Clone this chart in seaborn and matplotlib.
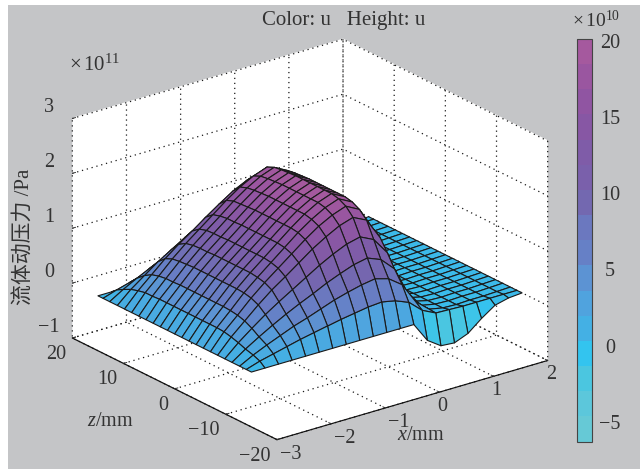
import numpy as np
import seaborn as sns
import matplotlib
matplotlib.use("Agg")
import matplotlib.pyplot as plt
from matplotlib.cm import ScalarMappable
from matplotlib.colors import ListedColormap, Normalize
from matplotlib.patches import Rectangle

sns.set_theme(style="white")
plt.rcParams['font.family'] = ['Liberation Serif', 'Noto Sans CJK SC']
plt.rcParams['mathtext.fontset'] = 'custom'
plt.rcParams['mathtext.rm'] = 'Liberation Serif'
plt.rcParams['mathtext.it'] = 'Liberation Serif:italic'

# data, u in 1e11 Pa
x_mm = [-3, -2.75, -2.5, -2.25, -2, -1.75, -1.5, -1.25, -1, -0.75, -0.5, -0.25,
        0, 0.25, 0.5, 0.75, 1, 1.25, 1.5, 1.75, 2]
z_mm = [-15, -14, -12.7, -11.2, -9.8, -8.4, -7, -5.6, -4.2, -2.8, -1.4, 0,
        1.4, 2.8, 4.2, 5.6, 7, 8.4, 9.8, 11.2, 12.7, 14, 15]
u_rows = [
    [0]*23,
    [0,.08,.13,.17,.22,.26,.29,.3,.3,.3,.3,.3,.3,.3,.3,.3,.29,.29,.26,.22,.15,.08,0],
    [0,.14,.24,.32,.41,.48,.52,.54,.55,.55,.55,.55,.55,.55,.55,.54,.54,.52,.48,.4,.28,.15,0],
    [0,.2,.34,.46,.59,.7,.76,.79,.8,.8,.8,.8,.8,.8,.8,.79,.78,.76,.7,.58,.4,.22,0],
    [0,.26,.44,.59,.75,.9,.97,1.0,1.02,1.02,1.02,1.02,1.02,1.02,1.01,1.01,1.0,.97,.89,.73,.51,.29,0],
    [0,.31,.52,.71,.9,1.07,1.16,1.2,1.22,1.22,1.22,1.22,1.22,1.22,1.21,1.21,1.2,1.16,1.06,.88,.61,.34,0],
    [0,.36,.61,.82,1.05,1.25,1.35,1.4,1.42,1.42,1.42,1.42,1.42,1.42,1.41,1.41,1.39,1.35,1.24,1.02,.71,.4,0],
    [0,.41,.7,.94,1.2,1.43,1.54,1.6,1.62,1.62,1.62,1.62,1.62,1.62,1.61,1.6,1.59,1.54,1.41,1.17,.81,.45,0],
    [0,.45,.77,1.04,1.33,1.58,1.71,1.77,1.8,1.8,1.8,1.8,1.8,1.8,1.79,1.78,1.76,1.71,1.57,1.3,.9,.5,0],
    [0,.49,.83,1.13,1.44,1.71,1.84,1.91,1.94,1.94,1.94,1.94,1.94,1.94,1.93,1.92,1.9,1.84,1.69,1.4,.97,.54,0],
    [0,.51,.87,1.18,1.5,1.79,1.93,2.0,2.03,2.03,2.03,2.03,2.03,2.03,2.02,2.01,1.99,1.93,1.77,1.46,1.02,.57,0],
    [0,.46,.8,1.08,1.38,1.67,1.8,1.87,1.9,1.9,1.9,1.9,1.9,1.9,1.89,1.88,1.86,1.8,1.65,1.37,.95,.53,0],
    [0,.36,.62,.84,1.07,1.28,1.38,1.43,1.45,1.45,1.45,1.45,1.45,1.45,1.44,1.44,1.42,1.38,1.26,1.04,.73,.41,0],
    [-.36,.14,.24,.32,.41,.48,.52,.54,.55,.55,.55,.55,.55,.55,.55,.54,.54,.52,.48,.4,.28,.15,-.36],
    [-.53,.02,.03,.03,.04,.04,.05,.05,.05,.05,.05,.05,.05,.05,.05,.05,.05,.05,.04,.04,.03,.02,-.53],
    [-.55,.01,-.02,-.02,-.02,-.02,-.02,-.02,-.02,-.02,-.02,-.02,-.02,-.02,-.02,-.02,-.02,-.02,-.02,-.02,-.02,.01,-.55],
    [-.45,0,-.03,-.03,-.03,-.03,-.03,-.03,-.03,-.03,-.03,-.03,-.03,-.03,-.03,-.03,-.03,-.03,-.03,-.03,-.03,0,-.45],
    [-.25,0,-.02,-.02,-.02,-.02,-.02,-.02,-.02,-.02,-.02,-.02,-.02,-.02,-.02,-.02,-.02,-.02,-.02,-.02,-.02,0,-.25],
    [-.08,0,-.02,-.02,-.02,-.02,-.02,-.02,-.02,-.02,-.02,-.02,-.02,-.02,-.02,-.02,-.02,-.02,-.02,-.02,-.02,0,-.08],
    [-.02,0,-.01,-.01,-.01,-.01,-.01,-.01,-.01,-.01,-.01,-.01,-.01,-.01,-.01,-.01,-.01,-.01,-.01,-.01,-.01,0,-.02],
    [0]*23,
]
x_ticks = [-3, -2, -1, 0, 1, 2]
z_ticks = [-20, -10, 0, 10, 20]
u_ticks = [-1, 0, 1, 2, 3]
cbar_ticks = [-5, 0, 5, 10, 15, 20]
cbar_levels = ['#66c9d6', '#5cc7db', '#4bc6e0', '#33c4ef', '#44b0e4', '#50a3de',
               '#5c93d3', '#6680c6', '#6b78bf', '#7368b0', '#7a60ab', '#7f5ca8',
               '#8757a4', '#9055a2', '#9a56a0', '#a5599e']

def minus(v):
    return str(v).replace('-', '\u2212')

W, H = 640, 469
bg = '#c4c5c7'
txt = '#333333'
fig = plt.figure(figsize=(W/100, H/100), dpi=100, facecolor='white')
fig.add_artist(Rectangle((8/W, 0), 1, 1-5/H, transform=fig.transFigure, color=bg, lw=0, zorder=-5))

side = 519
ax = fig.add_axes([(303-side/2)/W, 1-(246.5+side/2)/H, side/W, side/H], projection='3d', proj_type='ortho')
ax.patch.set_alpha(0)
ax.view_init(elev=22.4, azim=-127.5)
ax.set_box_aspect((342, 337, 238))
ax.set_xlim(-3, 2)
ax.set_ylim(-20, 20)
ax.set_zlim(-1, 3)

X, Z = np.meshgrid(x_mm, z_mm, indexing='ij')
U = np.array(u_rows, dtype=float)
surf_cmap = sns.blend_palette(cbar_levels, n_colors=256, as_cmap=True)
ax.plot_surface(X, Z, U, cmap=surf_cmap, vmin=-0.63, vmax=2.013, rstride=1, cstride=1,
                edgecolor='#1a1a1a', linewidth=0.8, antialiased=True)

for axis in (ax.xaxis, ax.yaxis, ax.zaxis):
    axis.set_pane_color((1, 1, 1, 1))
    axis.pane.set_edgecolor('white')
    axis._axinfo['grid'].update(color='k', linestyle=(0, (1, 3)), linewidth=0.9)
    axis._axinfo['tick'].update(inward_factor=0, outward_factor=0.15, linewidth={True: 0.7, False: 0.7})
    axis.line.set_color('#111111')
    axis.line.set_linewidth(0.9)
ax.zaxis.line.set_color((0, 0, 0, 0))
ax.grid(True)
ax.set_xticks(x_ticks)
ax.set_yticks(z_ticks)
ax.set_zticks(u_ticks)
ax.set_xticklabels([minus(v) for v in x_ticks])
ax.set_yticklabels([minus(v) for v in z_ticks])
ax.set_zticklabels([minus(v) for v in u_ticks])
ax.tick_params(labelsize=14.5, colors=txt)
ax.tick_params(axis='x', pad=-5)
ax.tick_params(axis='y', pad=-3.5)
ax.tick_params(axis='z', pad=1.5)
for t, v in zip(ax.get_xticklabels(), x_ticks):
    t.set_ha('left' if v < 0 else 'center')
for t in ax.get_yticklabels():
    t.set_ha('right')
for t in ax.get_zticklabels():
    t.set_va('bottom')

# colorbar
cax = fig.add_axes([577/W, 1-441.6/H, 15/W, 402.6/H])
sm = ScalarMappable(norm=Normalize(-6.3, 20.13), cmap=ListedColormap(sns.color_palette(cbar_levels)))
cb = fig.colorbar(sm, cax=cax, ticks=cbar_ticks)
cb.ax.set_yticklabels([minus(v) for v in cbar_ticks])
cb.ax.tick_params(right=True, left=True, direction='in', length=5, width=0.9, color='#222222',
                  labelsize=14.5, labelcolor=txt, pad=13)
for t in cb.ax.get_yticklabels():
    t.set_ha('center')
cb.outline.set_edgecolor('#444444')
cb.outline.set_linewidth(0.8)

fig.text(344/W, 1-21/H, 'Color: u   Height: u', ha='center', va='center', fontsize=15, color=txt)
fig.text(596/W, 1-20/H, r'$\times\,10^{10}$', ha='center', va='center', fontsize=14, color=txt)
fig.text(95/W, 1-65/H, r'$\times\,10^{11}$', ha='center', va='center', fontsize=15, color=txt)
fig.text(25/W, 1-237/H, '流体动压力 /Pa', rotation=90, ha='center', va='center', fontsize=15, color=txt)
fig.text(110/W, 1-421/H, r'$z$/mm', ha='center', va='center', fontsize=14.5, color=txt)
fig.text(421/W, 1-435/H, r'$x$/mm', ha='center', va='center', fontsize=14.5, color=txt)

fig.savefig('out.png', dpi=100, facecolor=fig.get_facecolor())
